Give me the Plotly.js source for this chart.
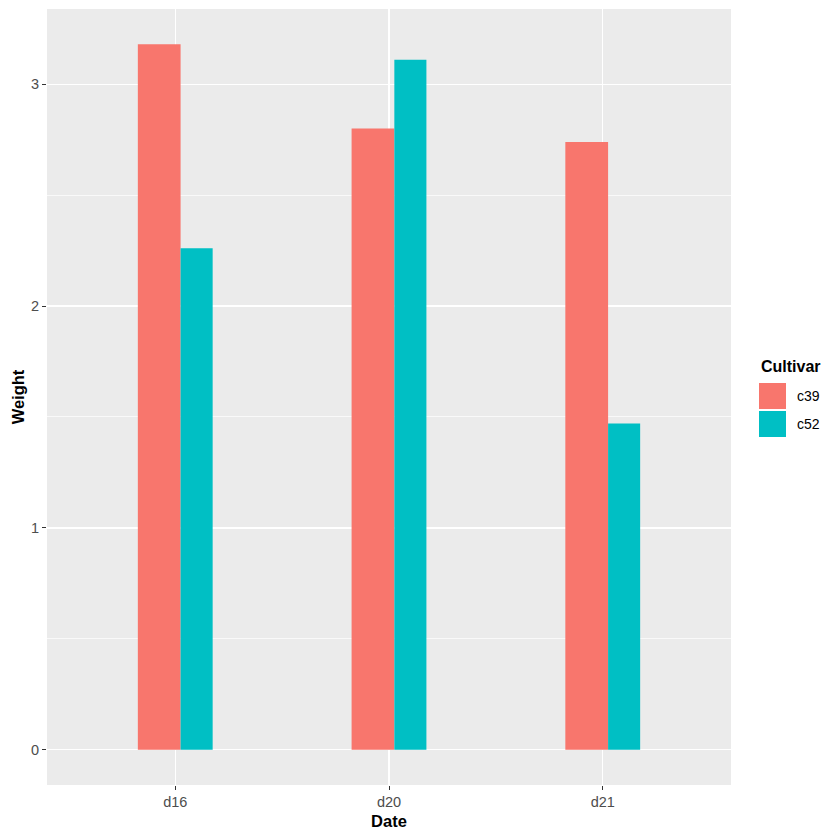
<!DOCTYPE html>
<html>
<head>
<meta charset="utf-8">
<script src="https://cdn.plot.ly/plotly-3.0.1.min.js"></script>
<style>html,body{margin:0;padding:0;background:#fff;}#chart{width:840px;height:840px;}</style>
</head>
<body>
<div id="chart"></div>
<script>
const dates = ["d16", "d20", "d21"];
const cultivars = ["c39", "c52"];
const c39Weight = [3.18, 2.80, 2.74];
const c52Weight = [2.26, 3.11, 1.47];
const yTicks = [0, 1, 2, 3];

const colors = ["#F8766D", "#00BFC4"];
const series = [c39Weight, c52Weight];
// dodge: total width 0.35, c39 width 0.2, c52 width 0.15
const widths = [0.2, 0.15];
const offsets = [-0.175, 0.025];

const traces = cultivars.map((c, i) => ({
  type: "bar",
  name: c,
  x: dates,
  y: series[i],
  width: dates.map(() => widths[i]),
  offset: dates.map(() => offsets[i]),
  marker: {color: colors[i], line: {width: 0}},
  showlegend: false,
  hoverinfo: "x+y+name"
}));

const FONT = "Liberation Sans, Arial, sans-serif";
const L = 47, R = 731, T = 9, B = 785;
function px2paperX(px) { return (px - L) / (R - L); }
function px2paperY(py) { return (B - py) / (B - T); }

const shapes = [];
const annotations = [];
annotations.push({xref: "paper", yref: "paper", x: px2paperX(759), y: px2paperY(366),
  text: "<b>Cultivar</b>", showarrow: false, xanchor: "left", yanchor: "middle",
  font: {family: FONT, size: 16, color: "#000"}});
const legY = [[383, 409], [411, 437]];
cultivars.forEach((c, i) => {
  shapes.push({type: "rect", xref: "paper", yref: "paper",
    x0: px2paperX(759), x1: px2paperX(786),
    y0: px2paperY(legY[i][1]), y1: px2paperY(legY[i][0]),
    fillcolor: colors[i], line: {width: 0}});
  annotations.push({xref: "paper", yref: "paper",
    x: px2paperX(795), y: px2paperY((legY[i][0] + legY[i][1]) / 2),
    text: c, showarrow: false, xanchor: "left", yanchor: "middle",
    font: {family: FONT, size: 14, color: "#000"}});
});

const layout = {
  width: 840, height: 840,
  margin: {l: L, r: 840 - R, t: T, b: 840 - B, pad: 0},
  paper_bgcolor: "#FFFFFF",
  plot_bgcolor: "#EBEBEB",
  barmode: "overlay",
  showlegend: false,
  font: {family: FONT},
  xaxis: {
    type: "category",
    range: [-0.6, 2.6],
    showgrid: true, gridcolor: "#FFFFFF", gridwidth: 1.4,
    zeroline: false, showline: false,
    ticks: "outside", ticklen: 4, tickcolor: "#333333", tickwidth: 1,
    tickfont: {size: 14.5, color: "#4D4D4D"},
    title: {text: "<b>Date</b>", font: {size: 16.5, color: "#000"}, standoff: 6}
  },
  yaxis: {
    range: [-0.159, 3.339],
    tickvals: yTicks,
    ticktext: yTicks.map(String),
    showgrid: true, gridcolor: "#FFFFFF", gridwidth: 1.4,
    minor: {dtick: 0.5, tick0: 0, showgrid: true, gridcolor: "#FFFFFF", gridwidth: 0.7, ticks: ""},
    zeroline: false, showline: false,
    ticks: "outside", ticklen: 4, tickcolor: "#333333", tickwidth: 1,
    tickfont: {size: 14.5, color: "#4D4D4D"},
    title: {text: "<b>Weight</b>", font: {size: 16.5, color: "#000"}, standoff: 2}
  },
  shapes: shapes,
  annotations: annotations
};

Plotly.newPlot("chart", traces, layout, {displayModeBar: false, staticPlot: true});
</script>
</body>
</html>
